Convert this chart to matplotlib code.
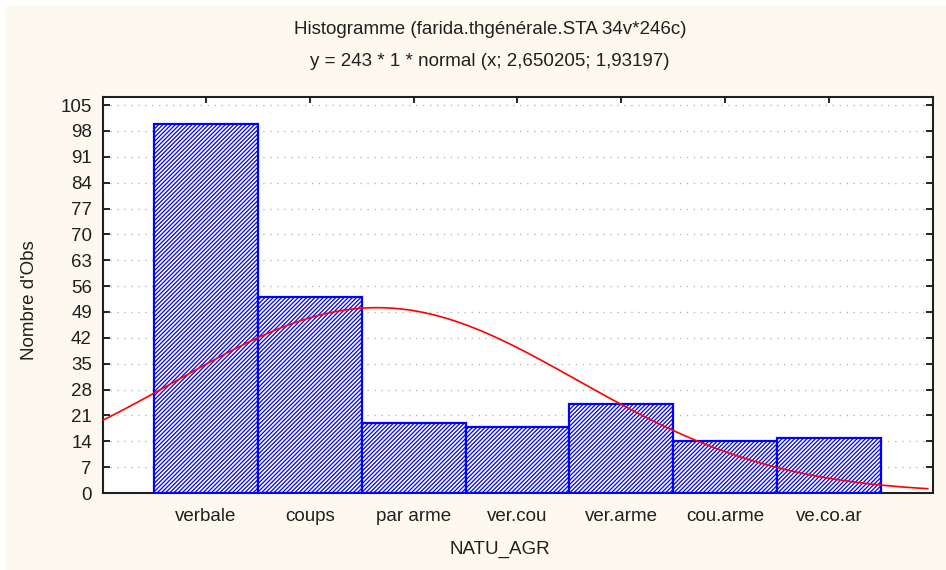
import numpy as np
import matplotlib.pyplot as plt
from matplotlib.patches import Rectangle

# data
categories = ['verbale', 'coups', 'par arme', 'ver.cou', 'ver.arme', 'cou.arme', 've.co.ar']
counts = [100, 53, 19, 18, 24, 14, 15]
# fitted normal given in the subtitle
n_obs = 243
mu = 2.650205
sigma = 1.93197
yticks = list(range(0, 106, 7))

plt.rcParams['font.family'] = ['Liberation Sans', 'DejaVu Sans']
plt.rcParams['hatch.linewidth'] = 0.9

fs = 13.5
txt = '#202020'

fig = plt.figure(figsize=(9.46, 5.70), dpi=100, facecolor='white')
# cream panel behind everything
fig.patches.append(Rectangle((6 / 946, 0), 1, 1 - 6 / 570, transform=fig.transFigure,
                             facecolor='#FDF9EF', edgecolor='none', zorder=-10))

ax = fig.add_axes([103 / 946, 1 - 493 / 570, (933 - 103) / 946, (493 - 97) / 570])
ax.set_facecolor('white')

x = np.arange(1, len(categories) + 1)
ax.bar(x, counts, width=1.0, facecolor='white', edgecolor='#0000FF',
       hatch='////////', linewidth=1.6, zorder=3)

# normal curve
xs = np.linspace(0.01, 7.95, 300)
ys = n_obs * 1 * np.exp(-0.5 * ((xs - mu) / sigma) ** 2) / (sigma * np.sqrt(2 * np.pi))
ax.plot(xs, ys, color='#FF0000', linewidth=1.2, zorder=4)

ax.set_xlim(0.01, 8.0)
ax.set_ylim(0, 107.2)
ax.set_yticks(yticks)
ax.set_xticks(x)
ax.set_xticklabels(categories)
ax.yaxis.grid(True, linestyle=(0, (1, 4)), color='#B8B8B8', linewidth=1.0, zorder=0)
ax.set_axisbelow(True)

ax.tick_params(axis='both', direction='in', length=4, width=1.2, labelsize=fs,
               labelcolor=txt, top=True, right=True)
ax.tick_params(axis='y', pad=8)
ax.tick_params(axis='x', pad=11)
ax.tick_params(axis='y', which='major', right=True, length=5)
for s in ax.spines.values():
    s.set_linewidth(1.5)
    s.set_color(txt)

fig.text(490 / 946, 1 - 30 / 570, 'Histogramme (farida.thgénérale.STA 34v*246c)',
         ha='center', va='center', fontsize=fs, color=txt)
fig.text(490 / 946, 1 - 62 / 570, 'y = 243 * 1 * normal (x; 2,650205; 1,93197)',
         ha='center', va='center', fontsize=fs, color=txt)
fig.text(30 / 946, 1 - 300 / 570, "Nombre d'Obs", rotation=90,
         ha='center', va='center', fontsize=fs, color=txt)
fig.text(500 / 946, 1 - 549 / 570, 'NATU_AGR',
         ha='center', va='center', fontsize=fs, color=txt)

fig.savefig('out.png', dpi=100, facecolor=fig.get_facecolor())
